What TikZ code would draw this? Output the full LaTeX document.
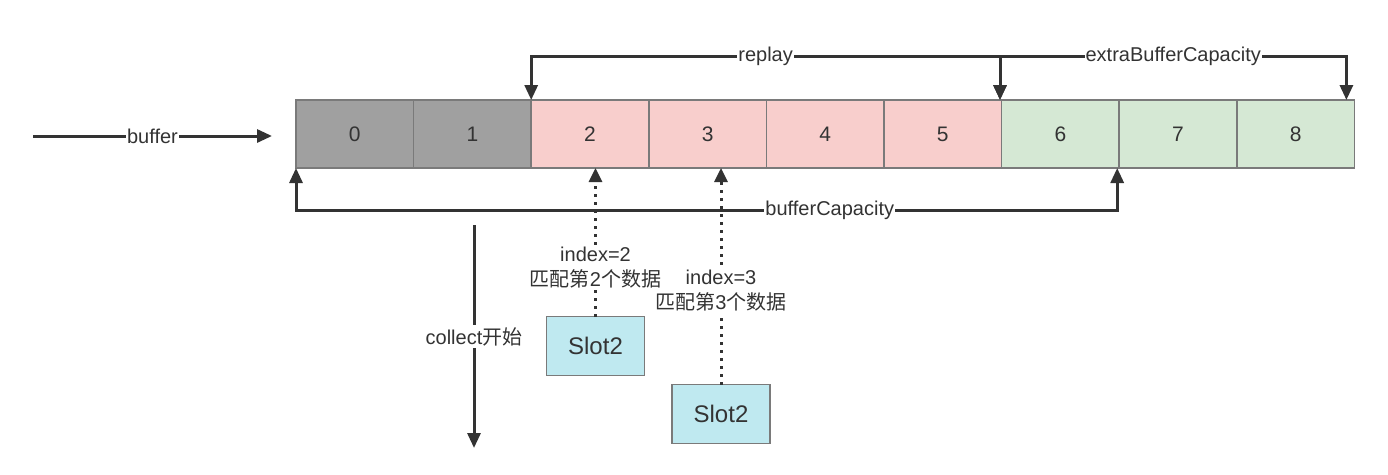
\documentclass[tikz,border=0pt]{standalone}
\usepackage{fontspec}
\setmainfont{Liberation Sans}
\newfontfamily\cjk{Noto Sans CJK SC}
\usetikzlibrary{arrows.meta,calc}
\definecolor{ink}{HTML}{333333}
\definecolor{grayc}{HTML}{A0A0A0}
\definecolor{pinkc}{HTML}{F8CECC}
\definecolor{greenc}{HTML}{D5E8D4}
\definecolor{slotc}{HTML}{BFE9F0}
\definecolor{edgec}{HTML}{7A7A7A}
\tikzset{
  txt/.style={font=\fontsize{20}{25}\selectfont, text=ink},
  cell/.style={font=\fontsize{21}{25}\selectfont, text=ink, draw=edgec, line width=1.5pt, minimum width=117.6pt, minimum height=68pt, inner sep=0pt, outer sep=0pt},
  slotbox/.style={draw=edgec, line width=1.5pt, fill=slotc, minimum width=98pt, minimum height=59pt, inner sep=0pt, outer sep=0pt, font=\fontsize{24}{28}\selectfont, text=ink},
  arr/.style={draw=ink, line width=3pt, -{Triangle[length=15pt,width=13pt]}},
  darr/.style={draw=ink, line width=3pt, {Triangle[length=15pt,width=13pt]}-{Triangle[length=15pt,width=13pt]}},
  dotarr/.style={draw=ink, line width=3pt, dash pattern=on 3pt off 5pt, -{Triangle[length=14pt,width=13pt]}},
  lbl/.style={txt, fill=white, inner xsep=1pt, inner ysep=2pt, align=center},
}
\begin{document}
\begin{tikzpicture}[x=1pt,y=-1pt]
\useasboundingbox (0,0) rectangle (1388,474);
% cells
\foreach \i/\c in {0/grayc,1/grayc,2/pinkc,3/pinkc,4/pinkc,5/pinkc,6/greenc,7/greenc,8/greenc}{
  \node[cell, fill=\c] (c\i) at ({296+117.6*(\i+0.5)},134) {\i};
}
% buffer arrow
\coordinate (bs) at (33,136);
\coordinate (be) at (272,136);
\draw[arr] (bs) -- node[lbl] {buffer} (be);
% replay
\draw[darr] (c2.north west) -- ++(0,-44) -| node[lbl, pos=0.25] {replay} ($(c5.north east)+(-1.6,0)$);
% extraBufferCapacity
\draw[darr] ($(c6.north west)+(-1.6,0)$) -- ++(0,-44) -| node[lbl, pos=0.25] {extraBufferCapacity} ($(c8.north east)+(-8,0)$);
% bufferCapacity
\draw[darr] (c0.south west) -- ++(0,42) -| node[lbl, pos=0.325] {bufferCapacity} ($(c6.south east)+(-2,0)$);
% slots
\node[slotbox] (s1) at (595.5,346) {Slot2};
\node[slotbox] (s2) at (721,414) {Slot2};
\draw[dotarr] (s2.north) -- node[lbl, inner xsep=0pt, pos=0.435] {index=3\\{\cjk 匹配第}3{\cjk 个数据}} (s2.north |- c3.south);
\draw[dotarr] (s1.north) -- node[lbl, inner xsep=0pt, pos=0.33] {index=2\\{\cjk 匹配第}2{\cjk 个数据}} (s1.north |- c2.south);
% collect
\coordinate (cs) at (474,225);
\coordinate (ce) at (474,448);
\draw[arr] (cs) -- node[lbl] {collect{\cjk 开始}} (ce);
\end{tikzpicture}
\end{document}
